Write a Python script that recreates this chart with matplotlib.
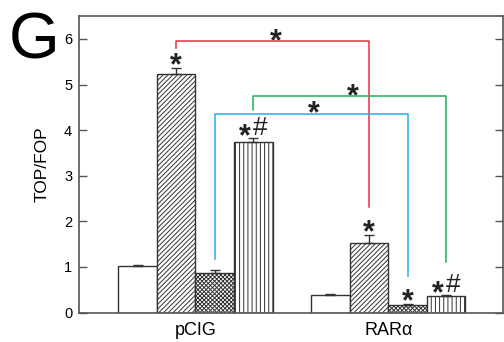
import numpy as np
import matplotlib.pyplot as plt

plt.rcParams['font.family'] = ['Liberation Sans', 'DejaVu Sans']
plt.rcParams['hatch.linewidth'] = 0.7
plt.rcParams['hatch.color'] = '#333333'

groups = ['pCIG', 'RAR\u03b1']
pcig_vals = [1.03, 5.22, 0.87, 3.74]
pcig_err = [0.01, 0.14, 0.06, 0.08]
rar_vals = [0.39, 1.52, 0.16, 0.37]
rar_err = [0.01, 0.18, 0.02, 0.01]
pcig_marks = ['', '*', '', '*#']
rar_marks = ['', '*', '*', '*#']
hatches = ['', '///////', 'xxxxxxxx', '||||']

# brackets: bar index, top level, left foot, right foot, colour
brackets = [
    (1, 5.95, 5.81, 2.31, '#e8323c'),
    (2, 4.36, 1.17, 0.81, '#26aee6'),
    (3, 4.74, 4.45, 1.10, '#1fae5a'),
]

fig = plt.figure(figsize=(5.04, 3.42), dpi=100)
ax = fig.add_axes([0.157, 0.086, 0.841, 0.867])

width = 0.2
offsets = (np.arange(4) - 1.5) * width
centers = np.array([1.0, 2.0])
edge = '#333333'
star_kw = dict(textcoords='offset pixels', ha='center', va='baseline',
               fontsize=22, fontweight='bold', color='#222222')

xs = []
for gi, (vals, errs) in enumerate([(pcig_vals, pcig_err), (rar_vals, rar_err)]):
    x = centers[gi] + offsets
    xs.append(x)
    for i in range(4):
        ax.bar(x[i], vals[i], width, color='white', edgecolor=edge,
               hatch=hatches[i], linewidth=1.0, zorder=2)
    ax.errorbar(x, vals, yerr=[np.zeros(4), errs], fmt='none', ecolor=edge,
                elinewidth=1.0, capsize=3.5, capthick=1.0, zorder=3)

# significance marks above bars
for x, vals, errs, marks in [(xs[0], pcig_vals, pcig_err, pcig_marks),
                              (xs[1], rar_vals, rar_err, rar_marks)]:
    for i, m in enumerate(marks):
        top = vals[i] + errs[i]
        if m == '*':
            ax.annotate('*', (x[i], top), xytext=(0, -6), **star_kw)
        elif m == '*#':
            ax.annotate('*', (x[i], top), xytext=(-8, -7), **star_kw)
            ax.annotate('#', (x[i], top), xytext=(7, 3), textcoords='offset pixels',
                        ha='center', va='baseline', fontsize=19, color='#222222')

for idx, top, lo0, lo1, col in brackets:
    x0, x1 = xs[0][idx], xs[1][idx]
    ax.plot([x0, x0, x1, x1], [lo0, top, top, lo1], color=col, lw=1.1, zorder=4)
    ax.annotate('*', ((x0 + x1) / 2, top), xytext=(3, -9), **star_kw)

ax.set_xlim(0.397, 2.595)
ax.set_ylim(0, 6.5)
ax.set_yticks(range(7))
ax.set_xticks(centers)
ax.set_xticklabels(groups, fontsize=13)
ax.tick_params(axis='x', length=0, pad=7)
ax.tick_params(axis='y', direction='in', length=6, width=1, right=True,
               labelsize=10.5, pad=5, color='#555555')
ax.set_ylabel('TOP/FOP', fontsize=12.5, labelpad=10)
for s in ax.spines.values():
    s.set_color('#555555')
    s.set_linewidth(1.2)

fig.text(0.018, 0.965, 'G', fontsize=47, va='top', ha='left')

fig.savefig('out.png', dpi=100)
